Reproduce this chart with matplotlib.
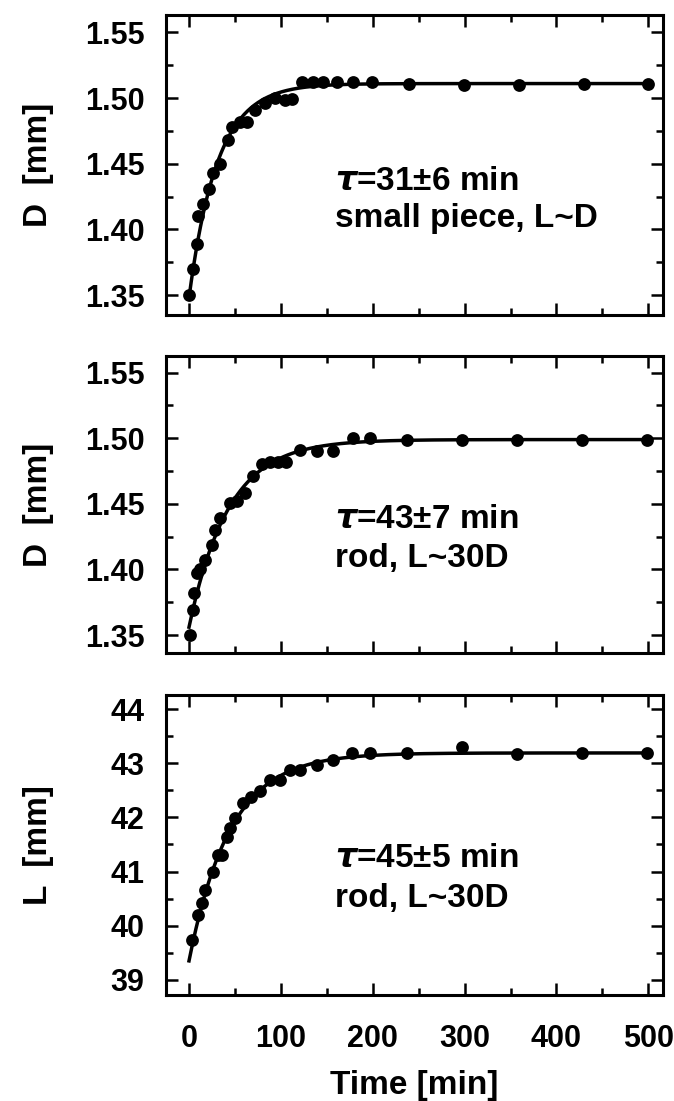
import numpy as np
import matplotlib
matplotlib.use("Agg")
import matplotlib.pyplot as plt
from matplotlib.ticker import MultipleLocator, FormatStrFormatter

plt.rcParams['font.family'] = ['Liberation Sans', 'DejaVu Sans']
plt.rcParams['font.weight'] = 'bold'
plt.rcParams['mathtext.fontset'] = 'dejavusans'

# Panel 1: small piece, diameter D [mm]
t1 = [0.4, 4.7, 8.3, 10, 15, 22, 26.5, 34, 42, 46.5, 55.5, 63, 72, 83, 94, 104.6,
      112, 123, 135, 146, 161, 179, 199, 239, 299, 359, 429.5, 500]
d1 = [1.350, 1.370, 1.389, 1.410, 1.419, 1.431, 1.443, 1.450, 1.468, 1.478, 1.482,
      1.482, 1.491, 1.496, 1.500, 1.4985, 1.499, 1.512, 1.512, 1.512, 1.512, 1.512,
      1.512, 1.511, 1.510, 1.510, 1.511, 1.511]
tau1, d1_inf, d1_0 = 31, 1.511, 1.348

# Panel 2: rod, diameter D [mm]
t2 = [1, 4.7, 5.8, 9, 12, 17.4, 24.7, 28.3, 33.8, 44.7, 52, 61, 70, 79, 88, 97, 106,
      121, 139, 157, 179, 197, 237, 297, 357, 428, 498.6]
d2 = [1.350, 1.369, 1.382, 1.397, 1.400, 1.407, 1.419, 1.430, 1.439, 1.4505, 1.452,
      1.458, 1.471, 1.480, 1.482, 1.482, 1.482, 1.491, 1.490, 1.490, 1.500, 1.500,
      1.499, 1.499, 1.499, 1.499, 1.499]
tau2, d2_inf, d2_0 = 43, 1.499, 1.356

# Panel 3: rod, length L [mm]
t3 = [3, 10, 14, 17.4, 26.5, 32, 35.6, 41, 44.7, 50, 59, 68, 77, 88, 99, 110, 121,
      139, 157, 177, 197, 237, 297, 357, 428, 498.6]
l3 = [39.74, 40.20, 40.41, 40.66, 41.00, 41.31, 41.31, 41.64, 41.80, 41.99, 42.26,
      42.38, 42.48, 42.69, 42.69, 42.88, 42.88, 42.97, 43.06, 43.19, 43.19, 43.19,
      43.30, 43.17, 43.19, 43.18]
tau3, l3_inf, l3_0 = 45, 43.19, 39.35

panels = [
    dict(t=t1, y=d1, tau=tau1, yinf=d1_inf, y0=d1_0, ylabel='D  [mm]',
         ylim=(1.3348, 1.5632), major=0.05, minor=0.025, fmt='%.2f',
         lines=(r'$\tau$=31±6 min', 'small piece, L~D'), text_y=(1.430, 1.4018)),
    dict(t=t2, y=d2, tau=tau2, yinf=d2_inf, y0=d2_0, ylabel='D  [mm]',
         ylim=(1.3363, 1.5627), major=0.05, minor=0.025, fmt='%.2f',
         lines=(r'$\tau$=43±7 min', 'rod, L~30D'), text_y=(1.4316, 1.4019)),
    dict(t=t3, y=l3, tau=tau3, yinf=l3_inf, y0=l3_0, ylabel='L  [mm]',
         ylim=(38.72, 44.26), major=1, minor=0.5, fmt='%d',
         lines=(r'$\tau$=45±5 min', 'rod, L~30D'), text_y=(41.09, 40.35)),
]

W, H = 674, 1101
fig = plt.figure(figsize=(W / 100, H / 100), dpi=100)
left, right = 166, 663
boxes = [(15, 315), (356, 653), (695, 995)]
xlim = (-25.05, 516)

for i, (p, (top, bot)) in enumerate(zip(panels, boxes)):
    ax = fig.add_axes([left / W, 1 - bot / H, (right - left) / W, (bot - top) / H])
    tt = np.linspace(0, 500, 400)
    fit = p['yinf'] - (p['yinf'] - p['y0']) * np.exp(-tt / p['tau'])
    ax.plot(tt, fit, color='black', lw=2.5, zorder=2)
    ax.plot(p['t'], p['y'], 'o', color='black', ms=8, mec='black', mew=1.2, zorder=3)
    ax.set_xlim(*xlim)
    ax.set_ylim(*p['ylim'])
    ax.xaxis.set_major_locator(MultipleLocator(100))
    ax.xaxis.set_minor_locator(MultipleLocator(50))
    ax.yaxis.set_major_locator(MultipleLocator(p['major']))
    ax.yaxis.set_minor_locator(MultipleLocator(p['minor']))
    ax.yaxis.set_major_formatter(FormatStrFormatter(p['fmt']))
    ax.tick_params(which='both', direction='in', top=True, right=True, width=1.8)
    ax.tick_params(which='major', length=8.5)
    ax.tick_params(which='minor', length=5)
    ax.tick_params(axis='y', which='major', pad=15.5, labelsize=22)
    ax.tick_params(axis='x', which='major', pad=21, labelsize=22)
    for s in ax.spines.values():
        s.set_linewidth(2.2)
    for lab in ax.get_xticklabels() + ax.get_yticklabels():
        lab.set_fontweight('bold')
    ax.set_ylabel(p['ylabel'], fontsize=24, fontweight='bold')
    ax.yaxis.set_label_coords(-0.225, 0.5)
    for line, yy in zip(p['lines'], p['text_y']):
        ax.text(159, yy, line, fontsize=24, fontweight='bold', va='baseline', ha='left')
    if i < 2:
        ax.tick_params(axis='x', labelbottom=False)
    else:
        ax.set_xlabel('Time [min]', fontsize=24, fontweight='bold')
        ax.xaxis.set_label_coords(0.5, -0.25)

fig.savefig('out.png', dpi=100)
